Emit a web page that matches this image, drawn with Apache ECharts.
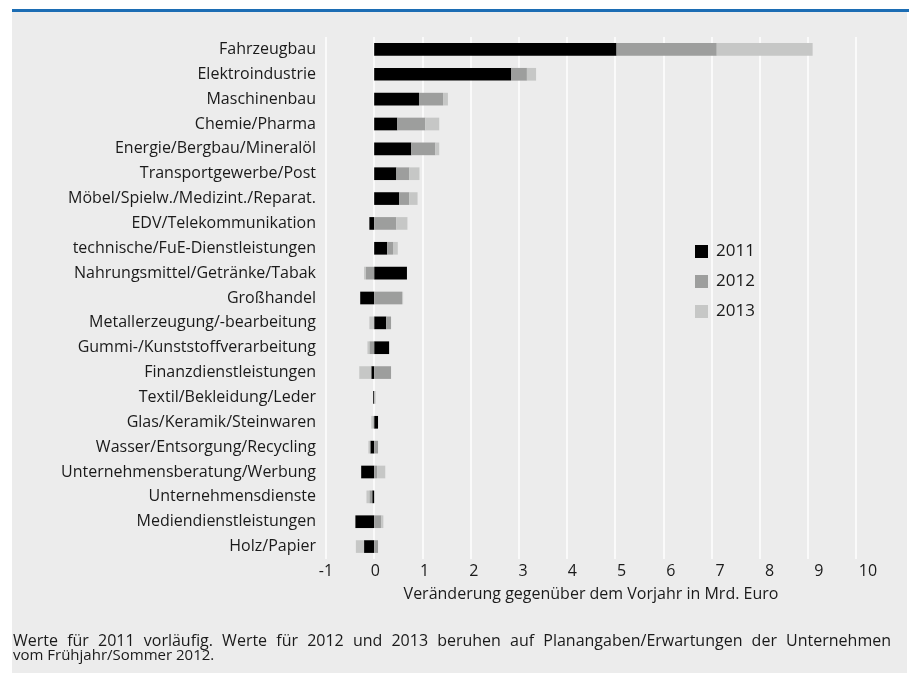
<!DOCTYPE html>
<html>
<head>
<meta charset="utf-8">
<script src="https://cdn.jsdelivr.net/npm/echarts@6/dist/echarts.min.js"></script>
<style>
  html, body { margin: 0; padding: 0; background: #fff; }
  #chart { width: 909px; height: 673px; }
</style>
</head>
<body>
<div id="chart"></div>
<script>
// Branchen, von oben nach unten
const categories = [
  'Fahrzeugbau',
  'Elektroindustrie',
  'Maschinenbau',
  'Chemie/Pharma',
  'Energie/Bergbau/Mineralöl',
  'Transportgewerbe/Post',
  'Möbel/Spielw./Medizint./Reparat.',
  'EDV/Telekommunikation',
  'technische/FuE-Dienstleistungen',
  'Nahrungsmittel/Getränke/Tabak',
  'Großhandel',
  'Metallerzeugung/-bearbeitung',
  'Gummi-/Kunststoffverarbeitung',
  'Finanzdienstleistungen',
  'Textil/Bekleidung/Leder',
  'Glas/Keramik/Steinwaren',
  'Wasser/Entsorgung/Recycling',
  'Unternehmensberatung/Werbung',
  'Unternehmensdienste',
  'Mediendienstleistungen',
  'Holz/Papier'
]

// Veränderung gegenüber Vorjahr in Mrd. Euro
const values2011 = [5.03, 2.84, 0.93, 0.48, 0.77, 0.46, 0.52, -0.10, 0.27, 0.68, -0.29, 0.25, 0.31, -0.06, -0.02, 0.08, -0.08, -0.27, -0.04, -0.39, -0.21]
const values2012 = [2.08, 0.33, 0.50, 0.58, 0.50, 0.27, 0.21, 0.46, 0.12, -0.17, 0.58, 0.10, -0.10, 0.35, 0.01, -0.02, 0.08, 0.06, -0.06, 0.15, 0.08]
const values2013 = [1.99, 0.19, 0.10, 0.29, 0.08, 0.21, 0.17, 0.23, 0.10, -0.04, 0.02, -0.10, -0.04, -0.25, 0.02, -0.04, -0.04, 0.17, -0.06, 0.04, -0.17]

const seriesNames = ['2011', '2012', '2013']
const colorArr = ['#000000', '#9d9e9d', '#c6c7c6']
const xMin = -1
const xMax = 10

const footerLine1 = 'Werte für 2011 vorläufig. Werte für 2012 und 2013 beruhen auf Planangaben/Erwartungen der Unternehmen'
const footerLine2 = 'vom Frühjahr/Sommer 2012.'

const textColor = '#1a1a1a'
const fontFamily = '"Open Sans", "Noto Sans", sans-serif'

const chart = echarts.init(document.getElementById('chart'))

// Blocksatz für die erste Fußnotenzeile
function justifiedWords(text, left, right, y, fontSize) {
  const ctx = document.createElement('canvas').getContext('2d')
  ctx.font = fontSize + 'px ' + fontFamily
  const words = text.split(' ')
  const widths = words.map(w => ctx.measureText(w).width)
  const total = widths.reduce((a, b) => a + b, 0)
  const gap = (right - left - total) / (words.length - 1)
  let x = left
  return words.map((w, i) => {
    const el = {
      type: 'text',
      x: x,
      y: y,
      silent: true,
      style: { text: w, fontFamily: fontFamily, fontSize: fontSize, fill: textColor, verticalAlign: 'middle' }
    }
    x += widths[i] + gap
    return el
  })
}

const seriesArr = [values2011, values2012, values2013].map((vals, i) => {
  return {
    name: seriesNames[i],
    type: 'bar',
    stack: 'total',
    barWidth: '51%',
    xAxisIndex: 0,
    yAxisIndex: 0,
    itemStyle: { color: colorArr[i] },
    emphasis: { disabled: true },
    data: vals
  }
})

const option = {
  animation: false,
  textStyle: { fontFamily: fontFamily },
  graphic: [
    {
      type: 'rect',
      z: -10,
      silent: true,
      shape: { x: 12, y: 12, width: 895, height: 661 },
      style: { fill: '#ececec' }
    },
    {
      type: 'rect',
      z: -9,
      silent: true,
      shape: { x: 12, y: 9, width: 897, height: 3 },
      style: { fill: '#1c6db4' }
    },
    ...justifiedWords(footerLine1, 13, 891, 641, 16),
    {
      type: 'text',
      x: 13,
      y: 656,
      silent: true,
      style: { text: footerLine2, fontFamily: fontFamily, fontSize: 15, fill: textColor, verticalAlign: 'middle' }
    }
  ],
  legend: {
    orient: 'vertical',
    left: 690,
    top: 238,
    itemWidth: 13,
    itemHeight: 13,
    itemGap: 13,
    icon: 'rect',
    selectedMode: false,
    textStyle: { fontSize: 17, color: textColor, fontFamily: fontFamily, padding: [0, 0, 0, 3] },
    data: seriesNames
  },
  grid: [
    { left: 326, right: 53, top: 37, height: 522, containLabel: false },
    { left: 326, right: 41, top: 37, height: 522, containLabel: false }
  ],
  xAxis: [
    {
      type: 'value',
      gridIndex: 0,
      min: xMin,
      max: xMax,
      interval: 1,
      axisLine: { show: false },
      axisTick: { show: false },
      axisLabel: { show: false },
      splitLine: { show: true, lineStyle: { color: '#ffffff', width: 1.5 } },
      name: 'Veränderung gegenüber dem Vorjahr in Mrd. Euro',
      nameLocation: 'middle',
      nameGap: 27,
      nameTextStyle: { fontSize: 16, color: textColor, fontFamily: fontFamily }
    },
    {
      // nur Beschriftung, leicht gestreckt wie im Original
      type: 'value',
      gridIndex: 1,
      min: xMin,
      max: xMax,
      interval: 1,
      axisLine: { show: false },
      axisTick: { show: false },
      splitLine: { show: false },
      axisLabel: { show: true, margin: 4, fontSize: 16, color: textColor, fontFamily: fontFamily }
    }
  ],
  yAxis: [
    {
      type: 'category',
      gridIndex: 0,
      inverse: true,
      data: categories,
      axisLine: { show: false },
      axisTick: { show: false },
      axisLabel: { margin: 10, fontSize: 16, color: textColor, fontFamily: fontFamily }
    },
    {
      type: 'category',
      gridIndex: 1,
      inverse: true,
      data: categories,
      show: false
    }
  ],
  series: seriesArr
}

chart.setOption(option)
</script>
</body>
</html>
